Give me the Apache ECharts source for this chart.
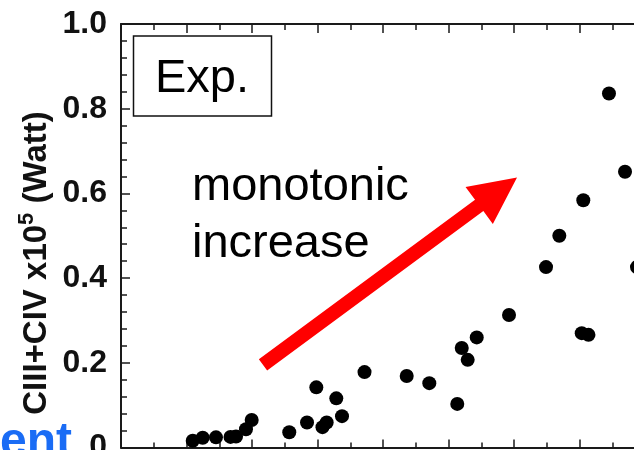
<!DOCTYPE html>
<html>
<head>
<meta charset="utf-8">
<script src="https://cdn.jsdelivr.net/npm/echarts@6/dist/echarts.min.js"></script>
<style>
  html, body { margin: 0; padding: 0; background: #fff; }
  #chart { width: 634px; height: 450px; }
</style>
</head>
<body>
<div id="chart"></div>
<script>
// Measured radiated power (CIII + CIV), one point per shot
const shotX = [1.095, 1.247, 1.450, 1.672, 1.756, 1.908, 1.995, 2.569, 2.840, 2.982,
               3.076, 3.140, 3.287, 3.374, 3.718, 4.362, 4.707, 5.134, 5.202, 5.293,
               5.431, 5.924, 6.489, 6.692, 7.058, 7.034, 7.137, 7.450, 7.695, 7.878];
const powerW = [0.016, 0.023, 0.024, 0.025, 0.026, 0.043, 0.065, 0.036, 0.059, 0.142,
                0.048, 0.059, 0.116, 0.074, 0.178, 0.169, 0.152, 0.103, 0.235, 0.207,
                0.260, 0.313, 0.426, 0.500, 0.584, 0.270, 0.266, 0.836, 0.651, 0.426];
const yTicks = [0, 0.2, 0.4, 0.6, 0.8, 1.0];
const yTickLabels = ['0', '0.2', '0.4', '0.6', '0.8', '1.0'];

// Trend arrow, from tail to tip, in data units
const trendFrom = [2.168, 0.195];
const trendTo = [6.046, 0.6375];

const FONT = "'Liberation Sans', Arial, Helvetica, sans-serif";
const AXIS_COLOR = '#1a1a1a';

const points = shotX.map((x, i) => [x, powerW[i]]);

const chart = echarts.init(document.getElementById('chart'), null, { renderer: 'canvas' });

const xAxisCommon = {
  type: 'value',
  min: 0,
  max: 8,
  interval: 1,
  axisLine: { show: true, lineStyle: { color: AXIS_COLOR, width: 2 } },
  axisLabel: { show: false },
  splitLine: { show: false },
  minorTick: { show: true, splitNumber: 2, length: 5, lineStyle: { color: AXIS_COLOR, width: 1.5 } }
};

chart.setOption({
  animation: false,
  backgroundColor: '#ffffff',
  grid: {
    left: 121, top: 24, width: 524, height: 423.5,
    containLabel: false,
    outerBoundsMode: 'none'
  },
  xAxis: [
    Object.assign({}, xAxisCommon, {
      position: 'bottom',
      axisTick: { show: true, inside: true, length: 8, lineStyle: { color: AXIS_COLOR, width: 1.5 } }
    }),
    Object.assign({}, xAxisCommon, {
      position: 'top',
      axisTick: { show: true, inside: true, length: 9, lineStyle: { color: AXIS_COLOR, width: 1.5 } },
      minorTick: { show: true, splitNumber: 2, length: 6, lineStyle: { color: AXIS_COLOR, width: 1.5 } }
    })
  ],
  yAxis: {
    type: 'value',
    min: 0,
    max: 1,
    interval: 0.2,
    axisLine: { show: true, lineStyle: { color: AXIS_COLOR, width: 2 } },
    axisTick: { show: true, inside: true, length: 9, lineStyle: { color: AXIS_COLOR, width: 1.5 } },
    minorTick: { show: true, splitNumber: 5, length: 6, lineStyle: { color: AXIS_COLOR, width: 1.5 } },
    splitLine: { show: false },
    axisLabel: {
      margin: 14,
      color: '#111',
      fontFamily: FONT,
      fontWeight: 'bold',
      fontSize: 32,
      padding: [0, 0, 14, 0],
      formatter: function (v) {
        const idx = yTicks.findIndex(t => Math.abs(t - v) < 1e-9);
        return idx >= 0 ? yTickLabels[idx] : '';
      }
    }
  },
  series: [{
    type: 'scatter',
    data: points,
    symbol: 'circle',
    symbolSize: 14,
    itemStyle: { color: '#000', opacity: 1 },
    clip: false
  }],
  graphic: [
    {
      id: 'ytitle',
      type: 'text',
      x: 37,
      y: 263,
      rotation: Math.PI / 2,
      style: {
        text: '{a|CIII+CIV x10}{sup|5}{a| (Watt)}',
        align: 'center',
        verticalAlign: 'middle',
        fill: '#111',
        rich: {
          a: { fontFamily: FONT, fontWeight: 'bold', fontSize: 33, fill: '#111' },
          sup: { fontFamily: FONT, fontWeight: 'bold', fontSize: 22, fill: '#111', padding: [0, 0, 20, 0] }
        }
      }
    },
    {
      id: 'expBox',
      type: 'rect',
      shape: { x: 133.5, y: 36, width: 138, height: 80 },
      style: { fill: '#fff', stroke: '#111', lineWidth: 1.5 }
    },
    {
      id: 'expText',
      type: 'text',
      x: 202,
      y: 56,
      style: {
        text: 'Exp.',
        fontFamily: FONT,
        fontSize: 47,
        fill: '#000',
        align: 'center',
        verticalAlign: 'top'
      }
    },
    {
      id: 'trendText',
      type: 'text',
      x: 192,
      y: 164,
      style: {
        text: 'monotonic',
        fontFamily: FONT,
        fontSize: 47,
        fill: '#000',
        align: 'left',
        verticalAlign: 'top'
      }
    },
    {
      id: 'trendText2',
      type: 'text',
      x: 192,
      y: 220.5,
      style: {
        text: 'increase',
        fontFamily: FONT,
        fontSize: 47,
        fill: '#000',
        align: 'left',
        verticalAlign: 'top'
      }
    },
    {
      id: 'cornerWord',
      type: 'text',
      x: 72,
      y: 419,
      style: {
        text: 'ent',
        fontFamily: FONT,
        fontWeight: 'bold',
        fontSize: 48,
        fill: '#1a6cf5',
        align: 'right',
        verticalAlign: 'top'
      }
    }
  ]
});

// Red trend arrow: shaft + triangular head, placed through the axes
function drawArrow() {
  const p0 = chart.convertToPixel({ gridIndex: 0 }, trendFrom);
  const p1 = chart.convertToPixel({ gridIndex: 0 }, trendTo);
  const dx = p1[0] - p0[0], dy = p1[1] - p0[1];
  const len = Math.sqrt(dx * dx + dy * dy);
  const ux = dx / len, uy = dy / len;
  const nx = -uy, ny = ux;
  const shaftHalf = 7, headLen = 47, headHalf = 23;
  const bx = p1[0] - ux * headLen, by = p1[1] - uy * headLen;
  const poly = [
    [p0[0] + nx * shaftHalf, p0[1] + ny * shaftHalf],
    [bx + nx * shaftHalf, by + ny * shaftHalf],
    [bx + nx * headHalf, by + ny * headHalf],
    [p1[0], p1[1]],
    [bx - nx * headHalf, by - ny * headHalf],
    [bx - nx * shaftHalf, by - ny * shaftHalf],
    [p0[0] - nx * shaftHalf, p0[1] - ny * shaftHalf]
  ];
  chart.setOption({
    graphic: [{
      id: 'trendArrow',
      type: 'polygon',
      shape: { points: poly },
      style: { fill: '#ff0000' },
      z: 10
    }]
  });
}
drawArrow();
</script>
</body>
</html>
